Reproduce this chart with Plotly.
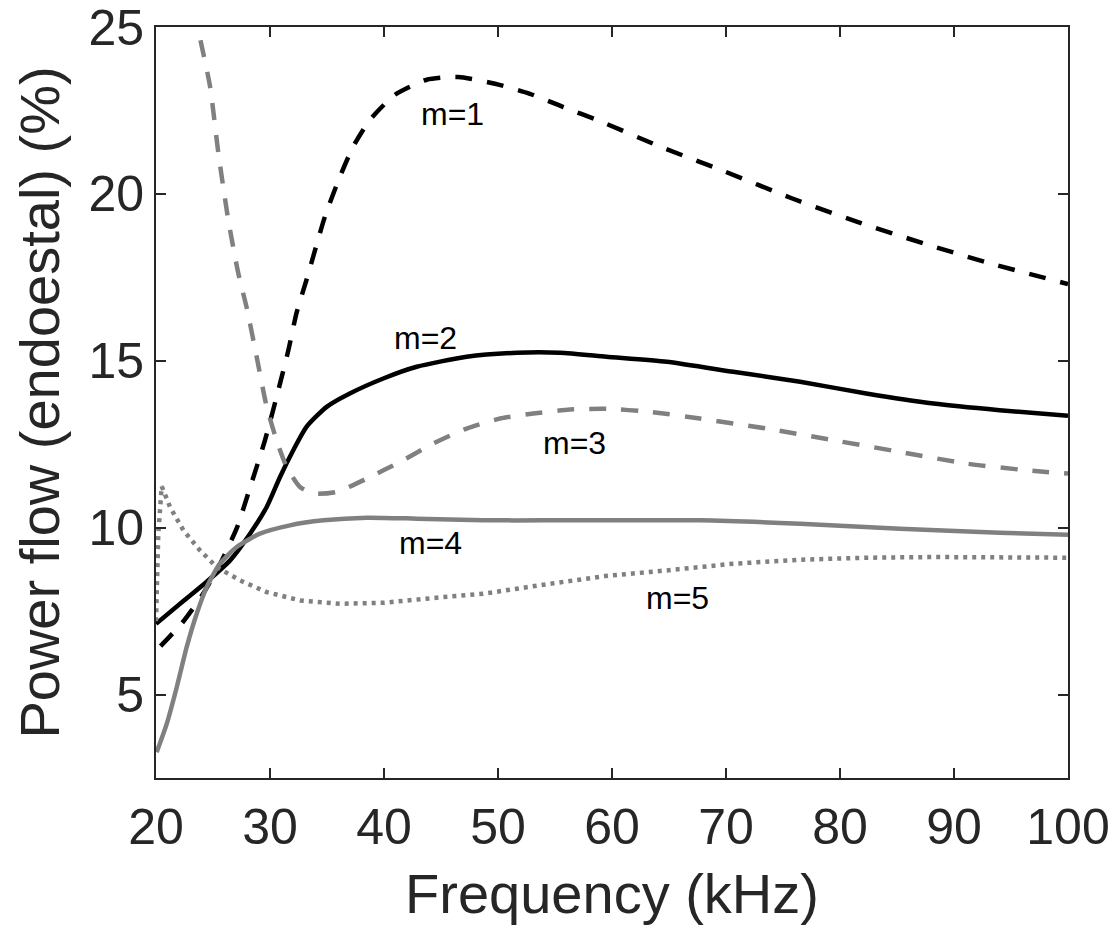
import plotly.graph_objects as go

# ---- data ----
m1_f = [20.4, 22.3, 24.0, 25.6, 27.1, 28.25, 29.56, 30.58, 31.6, 32.34, 33.2, 34.82, 36.14, 37.3,
        38.77, 40.96, 43.74, 46.5, 49.74, 52.8, 55.73, 58.8, 64.2, 69.9, 75.76, 81.46, 87.3, 93.16, 100]
m1_v = [6.45, 7.15, 7.95, 8.9, 10.0, 11.2, 12.62, 13.92, 15.3, 16.45, 17.42, 19.32, 20.52, 21.42,
        22.22, 22.97, 23.42, 23.5, 23.3, 23.0, 22.6, 22.2, 21.42, 20.67, 19.87, 19.17, 18.52, 17.92, 17.3]

m2_f = [20, 22.4, 24.45, 26.5, 28.25, 29.71, 30.88, 32.04, 33.2, 34.97, 37.0, 39.94, 42.87, 47.25,
        51.64, 55.44, 59.5, 64.8, 70.63, 76.5, 82.3, 88.2, 94.0, 100]
m2_v = [7.12, 7.8, 8.38, 9.02, 9.82, 10.62, 11.52, 12.32, 13.02, 13.62, 14.02, 14.47, 14.82, 15.12,
        15.24, 15.24, 15.12, 14.97, 14.67, 14.37, 14.02, 13.72, 13.52, 13.35]

m3_f = [23.9, 24.74, 25.47, 26.34, 27.22, 27.95, 28.83, 29.71, 30.58, 31.46, 32.63, 33.8, 35.85, 38.48,
        41.4, 44.32, 47.25, 50.18, 53.1, 56.3, 59.5, 63.33, 67.72, 73.57, 79.4, 85.26, 91.1, 96.37, 100]
m3_v = [24.6, 23.22, 21.22, 19.22, 17.62, 16.6, 15.12, 13.62, 12.62, 11.82, 11.22, 11.02, 11.07, 11.47,
        11.97, 12.52, 12.97, 13.27, 13.42, 13.54, 13.56, 13.47, 13.27, 12.97, 12.62, 12.27, 11.92, 11.72, 11.62]

m4_f = [20.06, 20.94, 21.82, 22.69, 23.57, 24.45, 25.6, 27.08, 29.12, 31.75, 34.68, 38.48, 42.87,
        48.7, 54.0, 59.8, 67.7, 76.5, 85.26, 94.0, 100]
m4_v = [3.27, 4.12, 5.22, 6.42, 7.42, 8.22, 8.92, 9.42, 9.82, 10.07, 10.22, 10.3, 10.27,
        10.22, 10.22, 10.22, 10.22, 10.12, 9.97, 9.85, 9.79]

m5_f = [20.0, 20.2, 20.5, 21.23, 22.4, 23.86, 25.32, 27.37, 29.71, 32.63, 36.14, 39.94, 45.2, 48.7,
        54.56, 59.4, 64.8, 70.63, 76.5, 82.3, 88.2, 94.0, 100]
m5_v = [7.2, 9.8, 11.24, 10.62, 9.92, 9.32, 8.82, 8.42, 8.07, 7.82, 7.72, 7.75, 7.92, 8.02,
        8.32, 8.55, 8.72, 8.92, 9.04, 9.1, 9.12, 9.12, 9.1]

labels = ["m=1", "m=2", "m=3", "m=4", "m=5"]
label_f = [46.05, 43.67, 56.67, 44.04, 65.75]
label_v = [22.4, 15.68, 12.54, 9.53, 7.89]

x_ticks = [20, 30, 40, 50, 60, 70, 80, 90, 100]
y_ticks = [5, 10, 15, 20, 25]

BLACK = "#000000"
GRAY = "#808080"
AX = "#262626"
FONT = "Liberation Sans, Arial, Helvetica, sans-serif"

fig = go.Figure()
series = [
    (m1_f, m1_v, BLACK, "17px,15px", 4.5, "spline"),
    (m2_f, m2_v, BLACK, "solid", 4.5, "spline"),
    (m3_f, m3_v, GRAY, "17px,15px", 4.5, "spline"),
    (m4_f, m4_v, GRAY, "solid", 4.5, "spline"),
    (m5_f, m5_v, GRAY, "4px,5px", 4.5, "linear"),
]
for f, v, c, d, w, shp in series:
    fig.add_trace(go.Scatter(x=f, y=v, mode="lines",
                             line=dict(color=c, dash=d, width=w, shape=shp,
                                       smoothing=0.6 if shp == "spline" else None),
                             showlegend=False, hoverinfo="skip", cliponaxis=True))

for t, fx, vy in zip(labels, label_f, label_v):
    fig.add_annotation(x=fx, y=vy, text=t, showarrow=False,
                       font=dict(family=FONT, size=32, color="#000000"),
                       xanchor="center", yanchor="middle")

axis_common = dict(showline=True, linecolor=AX, linewidth=2, mirror="ticks",
                   ticks="inside", ticklen=10, tickwidth=2, tickcolor=AX,
                   showgrid=False, zeroline=False, ticklabeloverflow="allow",
                   tickfont=dict(family=FONT, size=50, color=AX))

fig.update_xaxes(range=[20, 100], tickvals=x_ticks, ticktext=[str(v) for v in x_ticks],
                 ticklabelstandoff=4,
                 title=dict(text="Frequency (kHz)", font=dict(family=FONT, size=56, color=AX), standoff=20),
                 **axis_common)
fig.update_yaxes(range=[2.5, 25.0001], tickvals=y_ticks, ticktext=[str(v) for v in y_ticks],
                 title=dict(text="Power flow (endoestal) (%)", font=dict(family=FONT, size=56, color=AX), standoff=14),
                 **axis_common)

fig.update_layout(width=1108, height=932,
                  margin=dict(l=148, r=48, t=19, b=162, autoexpand=False),
                  plot_bgcolor="white", paper_bgcolor="white")

fig.write_html("out.html")
